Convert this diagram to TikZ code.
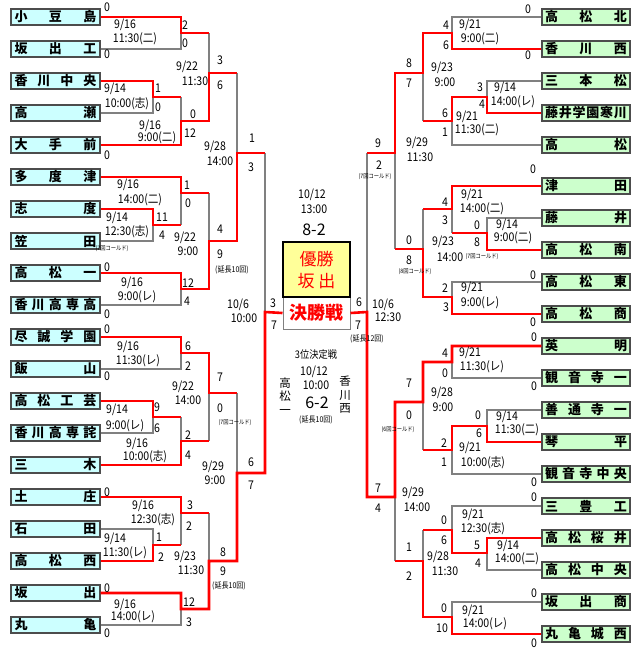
\documentclass[tikz,border=0pt]{standalone}
\usepackage{fontspec}
\newfontfamily\jp{Noto Sans CJK JP}
\newfontfamily\jpn{Noto Sans CJK JP}[FakeStretch=0.88]
\definecolor{gl}{HTML}{808080}
\definecolor{rl}{HTML}{FF0000}
\definecolor{lfill}{HTML}{CCFFFF}
\definecolor{rfill}{HTML}{CCFFCC}
\definecolor{yfill}{HTML}{FFFF99}
\tikzset{
 lt/.style={draw=black!70, line width=1.3pt, fill=lfill, minimum width=89pt, minimum height=16pt, inner sep=0pt, font=\jp\bfseries\fontsize{13}{13}\selectfont},
 rt/.style={lt, fill=rfill, minimum width=88pt},
 gline/.style={draw=gl, line width=1.3pt},
 rline/.style={draw=rl, line width=2.6pt, line join=miter},
 lbl/.style={inner sep=0pt, font=\jpn\fontsize{12}{12}\selectfont},
 smallnote/.style={inner sep=0pt, font=\jpn\fontsize{6}{6}\selectfont},
 extranote/.style={inner sep=0pt, font=\jpn\fontsize{8}{8}\selectfont},
 bigscore/.style={inner sep=0pt, font=\jp\fontsize{16}{16}\selectfont},
 midtxt/.style={inner sep=0pt, font=\jpn\fontsize{10.5}{10.5}\selectfont},
}
\newcounter{lc}
\newcommand\lb[4][lbl]{\stepcounter{lc}\node[#1] (n\arabic{lc}) at (#2,#3) {#4};}
\newcommand\tw[1]{\hbox to 82pt{#1}}
\begin{document}
\begin{tikzpicture}[x=1pt,y=-1pt]
\useasboundingbox (0,0) rectangle (640,654);
% ---------- left teams
\node[lt] (L1) at (55.5,17) {\tw{小\hfill 豆\hfill 島}};
\node[lt] (L2) at (55.5,49) {\tw{坂\hfill 出\hfill 工}};
\node[lt] (L3) at (55.5,81) {\tw{香\hfill 川\hfill 中\hfill 央}};
\node[lt] (L4) at (55.5,113) {\tw{高\hfill 瀬}};
\node[lt] (L5) at (55.5,145) {\tw{大\hfill 手\hfill 前}};
\node[lt] (L6) at (55.5,177) {\tw{多\hfill 度\hfill 津}};
\node[lt] (L7) at (55.5,209) {\tw{志\hfill 度}};
\node[lt] (L8) at (55.5,241) {\tw{笠\hfill 田}};
\node[lt] (L9) at (55.5,273) {\tw{高\hfill 松\hfill 一}};
\node[lt] (L10) at (55.5,305) {\tw{香\hfill 川\hfill 高\hfill 専\hfill 高}};
\node[lt] (L11) at (55.5,337) {\tw{尽\hfill 誠\hfill 学\hfill 園}};
\node[lt] (L12) at (55.5,369) {\tw{飯\hfill 山}};
\node[lt] (L13) at (55.5,401) {\tw{高\hfill 松\hfill 工\hfill 芸}};
\node[lt] (L14) at (55.5,433) {\tw{香\hfill 川\hfill 高\hfill 専\hfill 詫}};
\node[lt] (L15) at (55.5,465) {\tw{三\hfill 木}};
\node[lt] (L16) at (55.5,497) {\tw{土\hfill 庄}};
\node[lt] (L17) at (55.5,529) {\tw{石\hfill 田}};
\node[lt] (L18) at (55.5,561) {\tw{高\hfill 松\hfill 西}};
\node[lt] (L19) at (55.5,593) {\tw{坂\hfill 出}};
\node[lt] (L20) at (55.5,625) {\tw{丸\hfill 亀}};
% ---------- right teams
\node[rt] (R1) at (586,17) {\tw{高\hfill 松\hfill 北}};
\node[rt] (R2) at (586,49) {\tw{香\hfill 川\hfill 西}};
\node[rt] (R3) at (586,81) {\tw{三\hfill 本\hfill 松}};
\node[rt] (R4) at (586,113) {\tw{藤\hfill 井\hfill 学\hfill 園\hfill 寒\hfill 川}};
\node[rt] (R5) at (586,145) {\tw{高\hfill 松}};
\node[rt] (R6) at (586,186) {\tw{津\hfill 田}};
\node[rt] (R7) at (586,218) {\tw{藤\hfill 井}};
\node[rt] (R8) at (586,250) {\tw{高\hfill 松\hfill 南}};
\node[rt] (R9) at (586,282) {\tw{高\hfill 松\hfill 東}};
\node[rt] (R10) at (586,314) {\tw{高\hfill 松\hfill 商}};
\node[rt] (R11) at (586,346) {\tw{英\hfill 明}};
\node[rt] (R12) at (586,378) {\tw{観\hfill 音\hfill 寺\hfill 一}};
\node[rt] (R13) at (586,410) {\tw{善\hfill 通\hfill 寺\hfill 一}};
\node[rt] (R14) at (586,442) {\tw{琴\hfill 平}};
\node[rt] (R15) at (586,474) {\tw{観\hfill 音\hfill 寺\hfill 中\hfill 央}};
\node[rt] (R16) at (586,506) {\tw{三\hfill 豊\hfill 工}};
\node[rt] (R17) at (586,538) {\tw{高\hfill 松\hfill 桜\hfill 井}};
\node[rt] (R18) at (586,570) {\tw{高\hfill 松\hfill 中\hfill 央}};
\node[rt] (R19) at (586,602) {\tw{坂\hfill 出\hfill 商}};
\node[rt] (R20) at (586,634) {\tw{丸\hfill 亀\hfill 城\hfill 西}};
% ---------- centre boxes
\node[draw=gl, line width=1pt, fill=white, minimum width=67pt, minimum height=32pt, inner sep=0pt, text=rl, font=\jp\bfseries\fontsize{18}{18}\selectfont] (fin) at (316.5,313) {決勝戦};
\node[draw=black, line width=1.6pt, fill=yfill, minimum width=67pt, minimum height=55pt, inner sep=0pt] (win) at (316.5,269.5) {};
\node[inner sep=0pt, text=rl, font=\jp\fontsize{17}{17}\selectfont] (w1) at (316.5,259) {優勝};
\node[inner sep=0pt, text=rl, font=\jp\fontsize{17}{17}\selectfont] (w2) at (316.5,281) {坂\hspace{4pt}出};
% ---------- gray lines left
\draw[gline] (L2.east) -- (181,49) -- (181,33);
\draw[gline] (L4.east) -- (153,113) -- (153,97);
\draw[gline] (181,97) -- (181,121);
\draw[gline] (209,33) -- (209,73);
\draw[gline] (237,73) -- (237,153);
\draw[gline] (L8.east) -- (153,241) -- (153,225);
\draw[gline] (181,225) -- (181,193);
\draw[gline] (L10.east) -- (181,305) -- (181,289);
\draw[gline] (209,193) -- (209,241);
\draw[gline] (265,153) -- (265,312);
\draw[gline] (L12.east) -- (181,369) -- (181,353);
\draw[gline] (L14.east) -- (153,433) -- (153,417);
\draw[gline] (181,417) -- (181,441);
\draw[gline] (209,441) -- (209,393);
\draw[gline] (237,393) -- (237,473);
\draw[gline] (L17.east) -- (153,529) -- (153,545);
\draw[gline] (181,545) -- (181,513);
\draw[gline] (L20.east) -- (181,625) -- (181,609);
\draw[gline] (209,513) -- (209,561);
% ---------- gray lines right
\draw[gline] (R1.west) -- (452,17) -- (452,33);
\draw[gline] (R3.west) -- (487,81) -- (487,97);
\draw[gline] (R5.west) -- (452,145) -- (452,121);
\draw[gline] (423,121) -- (423,73);
\draw[gline] (395,153) -- (395,249);
\draw[gline] (367,153) -- (367,312);
\draw[gline] (R7.west) -- (487,218) -- (487,233);
\draw[gline] (452,233) -- (452,209);
\draw[gline] (423,209) -- (423,249);
\draw[gline] (R9.west) -- (452,282) -- (452,297);
\draw[gline] (R12.west) -- (452,378) -- (452,362);
\draw[gline] (R13.west) -- (487,410) -- (487,426);
\draw[gline] (R15.west) -- (452,474) -- (452,450);
\draw[gline] (423,450) -- (423,402);
\draw[gline] (395,497) -- (395,561);
\draw[gline] (R16.west) -- (452,506) -- (452,530);
\draw[gline] (R18.west) -- (487,570) -- (487,553);
\draw[gline] (423,530) -- (423,561);
\draw[gline] (R19.west) -- (452,602) -- (452,617);
% ---------- red lines left
\draw[rline] (L1.east) -- (181,17) -- (181,33) -- (209,33);
\draw[rline] (L3.east) -- (153,81) -- (153,97) -- (181,97);
\draw[rline] (L5.east) -- (181,145) -- (181,121) -- (209,121) -- (209,73) -- (237,73);
\draw[rline] (L6.east) -- (181,177) -- (181,193) -- (209,193);
\draw[rline] (L7.east) -- (153,209) -- (153,225) -- (181,225);
\draw[rline] (L9.east) -- (181,273) -- (181,289) -- (209,289) -- (209,241) -- (237,241) -- (237,153) -- (265,153);
\draw[rline] (L11.east) -- (181,337) -- (181,353) -- (209,353) -- (209,393) -- (237,393);
\draw[rline] (L13.east) -- (153,401) -- (153,417) -- (181,417);
\draw[rline] (L15.east) -- (181,465) -- (181,441) -- (209,441);
\draw[rline] (L16.east) -- (181,497) -- (181,513) -- (209,513);
\draw[rline] (L18.east) -- (153,561) -- (153,545) -- (181,545);
\draw[rline] (L19.east) -- (181,593) -- (181,609) -- (209,609) -- (209,561) -- (237,561) -- (237,473) -- (265,473) -- (265,312) -- (fin.west);
% ---------- red lines right
\draw[rline] (R2.west) -- (452,49) -- (452,33) -- (423,33) -- (423,73) -- (395,73) -- (395,153) -- (367,153);
\draw[rline] (R4.west) -- (487,113) -- (487,97) -- (452,97) -- (452,121) -- (423,121);
\draw[rline] (R6.west) -- (452,186) -- (452,209) -- (423,209);
\draw[rline] (R8.west) -- (487,250) -- (487,233) -- (452,233);
\draw[rline] (R10.west) -- (452,314) -- (452,297) -- (423,297) -- (423,249) -- (395,249);
\draw[rline] (R11.west) -- (452,346) -- (452,362) -- (423,362) -- (423,402) -- (395,402) -- (395,497) -- (367,497) -- (367,312) -- (fin.east);
\draw[rline] (R14.west) -- (487,442) -- (487,426) -- (452,426) -- (452,450) -- (423,450);
\draw[rline] (R17.west) -- (487,538) -- (487,553) -- (452,553) -- (452,530) -- (423,530);
\draw[rline] (R20.west) -- (452,634) -- (452,617) -- (423,617) -- (423,561) -- (395,561);
% ---------- left labels
\lb{107}{7}{0} \lb{107}{54}{0} \lb{107}{155}{0} \lb{107}{267}{0} \lb{107}{314}{0}
\lb{107}{329}{0} \lb{107}{376}{0} \lb{107}{492}{0} \lb{107}{588}{0} \lb{107}{633}{0}
\lb{125}{25}{9/16} \lb{135}{39}{11:30(二)} \lb{185}{25}{2} \lb{185}{43}{0}
\lb{115}{89}{9/14} \lb{127}{104}{10:00(志)} \lb{158}{88}{1} \lb{158}{107}{0}
\lb{150}{126}{9/16} \lb{157}{138}{9:00(二)} \lb{193}{114}{0} \lb{190}{133}{12}
\lb{187}{67}{9/22} \lb{195}{81}{11:30} \lb{220}{60}{3} \lb{220}{85}{6}
\lb{215}{147}{9/28} \lb{220}{161}{14:00} \lb{252}{138}{1} \lb{251}{167}{3}
\lb{128}{185}{9/16} \lb{140}{200}{14:00(二)} \lb{187}{185}{1} \lb{188}{203}{0}
\lb{117}{218}{9/14} \lb{127}{232}{12:30(志)} \lb{162}{217}{11} \lb{162}{235}{4}
\lb[smallnote]{112}{249}{(7回コールド)}
\lb{132}{283}{9/16} \lb{137}{297}{9:00(レ)} \lb{188}{283}{12} \lb{187}{301}{4}
\lb{185}{238}{9/22} \lb{188}{251}{9:00} \lb{220}{229}{4} \lb{220}{254}{9}
\lb[extranote]{232}{270}{(延長10回)}
\lb{238}{305}{10/6} \lb{244}{318}{10:00} \lb{273}{303}{3} \lb{274}{325}{7}
\lb{128}{347}{9/16} \lb{138}{361}{11:30(レ)} \lb{188}{346}{6} \lb{188}{366}{2}
\lb{117}{410}{9/14} \lb{125}{426}{9:00(レ)} \lb{157}{407}{9} \lb{157}{428}{6}
\lb{137}{444}{9/16} \lb{145}{457}{10:00(志)} \lb{188}{435}{2} \lb{188}{455}{4}
\lb{183}{387}{9/22} \lb{188}{400}{14:00} \lb{220}{377}{7} \lb{220}{408}{0}
\lb[smallnote]{235}{423}{(7回コールド)}
\lb{213}{467}{9/29} \lb{215}{480}{9:00} \lb{251}{462}{6} \lb{251}{485}{7}
\lb{143}{506}{9/16} \lb{153}{520}{12:30(志)} \lb{190}{505}{3} \lb{189}{526}{2}
\lb{115}{539}{9/14} \lb{125}{553}{11:30(レ)} \lb{159}{537}{1} \lb{161}{557}{2}
\lb{125}{605}{9/16} \lb{133}{617}{14:00(レ)} \lb{189}{602}{12} \lb{189}{622}{3}
\lb{185}{557}{9/23} \lb{191}{570}{11:30} \lb{223}{552}{8} \lb{223}{571}{9}
\lb[extranote]{229}{586}{(延長10回)}
% ---------- right labels
\lb{528}{9}{0} \lb{528}{55}{0} \lb{533}{169}{0} \lb{533}{275}{0} \lb{533}{322}{0}
\lb{534}{337}{0} \lb{534}{386}{0} \lb{534}{482}{0} \lb{534}{497}{0} \lb{534}{593}{0} \lb{534}{643}{0}
\lb{470}{25}{9/21} \lb{480}{39}{9:00(二)} \lb{446}{25}{4} \lb{446}{45}{6}
\lb{505}{88}{9/14} \lb{513}{102}{14:00(レ)} \lb{480}{87}{3} \lb{482}{104}{4}
\lb{467}{117}{9/21} \lb{477}{130}{11:30(二)} \lb{445}{113}{6} \lb{445}{132}{1}
\lb{442}{68}{9/23} \lb{445}{82}{9:00} \lb{409}{63}{8} \lb{409}{83}{7}
\lb{417}{143}{9/29} \lb{420}{157}{11:30} \lb{378}{143}{9} \lb{379}{165}{2}
\lb[smallnote]{375}{177}{(7回コールド)}
\lb{472}{195}{9/21} \lb{482}{209}{14:00(二)} \lb{445}{202}{4} \lb{445}{220}{3}
\lb{507}{225}{9/14} \lb{513}{238}{9:00(二)} \lb{477}{225}{0} \lb{477}{242}{8}
\lb{443}{242}{9/23} \lb{450}{257}{14:00} \lb[smallnote]{482}{257}{(7回コールド)}
\lb{409}{240}{0} \lb{409}{260}{8} \lb[smallnote]{415}{272}{(8回コールド)}
\lb{472}{288}{9/21} \lb{480}{303}{9:00(レ)} \lb{445}{288}{2} \lb{446}{307}{3}
\lb{383}{305}{10/6} \lb{388}{317}{12:30} \lb{359}{302}{6} \lb{358}{325}{7}
\lb[extranote]{367}{339}{(延長12回)}
\lb{470}{353}{9/21} \lb{482}{367}{11:30(レ)} \lb{445}{353}{4} \lb{445}{373}{0}
\lb{507}{417}{9/14} \lb{517}{430}{11:30(二)} \lb{478}{415}{0} \lb{479}{433}{6}
\lb{470}{448}{9/21} \lb{483}{463}{10:00(志)} \lb{444}{443}{2} \lb{444}{462}{1}
\lb{442}{393}{9/28} \lb{443}{407}{9:00} \lb{409}{383}{7} \lb{409}{415}{0}
\lb[smallnote]{398}{430}{(6回コールド)}
\lb{413}{493}{9/29} \lb{417}{507}{14:00} \lb{378}{488}{7} \lb{378}{508}{4}
\lb{473}{515}{9/21} \lb{483}{529}{12:30(志)} \lb{444}{520}{0} \lb{444}{540}{6}
\lb{508}{546}{9/14} \lb{517}{559}{14:00(二)} \lb{477}{545}{5} \lb{478}{563}{4}
\lb{438}{557}{9/28} \lb{445}{571}{11:30} \lb{409}{547}{1} \lb{409}{576}{2}
\lb{473}{611}{9/21} \lb{485}{624}{14:00(レ)} \lb{444}{608}{0} \lb{442}{628}{10}
% ---------- centre texts
\lb{312}{195}{10/12} \lb{314}{209}{13:00} \lb[bigscore]{314}{230}{8-2}
\lb[midtxt]{316}{355}{3位決定戦} \lb{314}{372}{10/12} \lb{316}{385}{10:00}
\lb[bigscore]{317}{403}{6-2} \lb[extranote]{316}{420}{(延長10回)}
\node[inner sep=0pt, align=center, font=\jp\fontsize{11.5}{13.5}\selectfont] (v1) at (285,396) {高\\松\\一};
\node[inner sep=0pt, align=center, font=\jp\fontsize{11.5}{13.5}\selectfont] (v2) at (345,395) {香\\川\\西};
\end{tikzpicture}
\end{document}
